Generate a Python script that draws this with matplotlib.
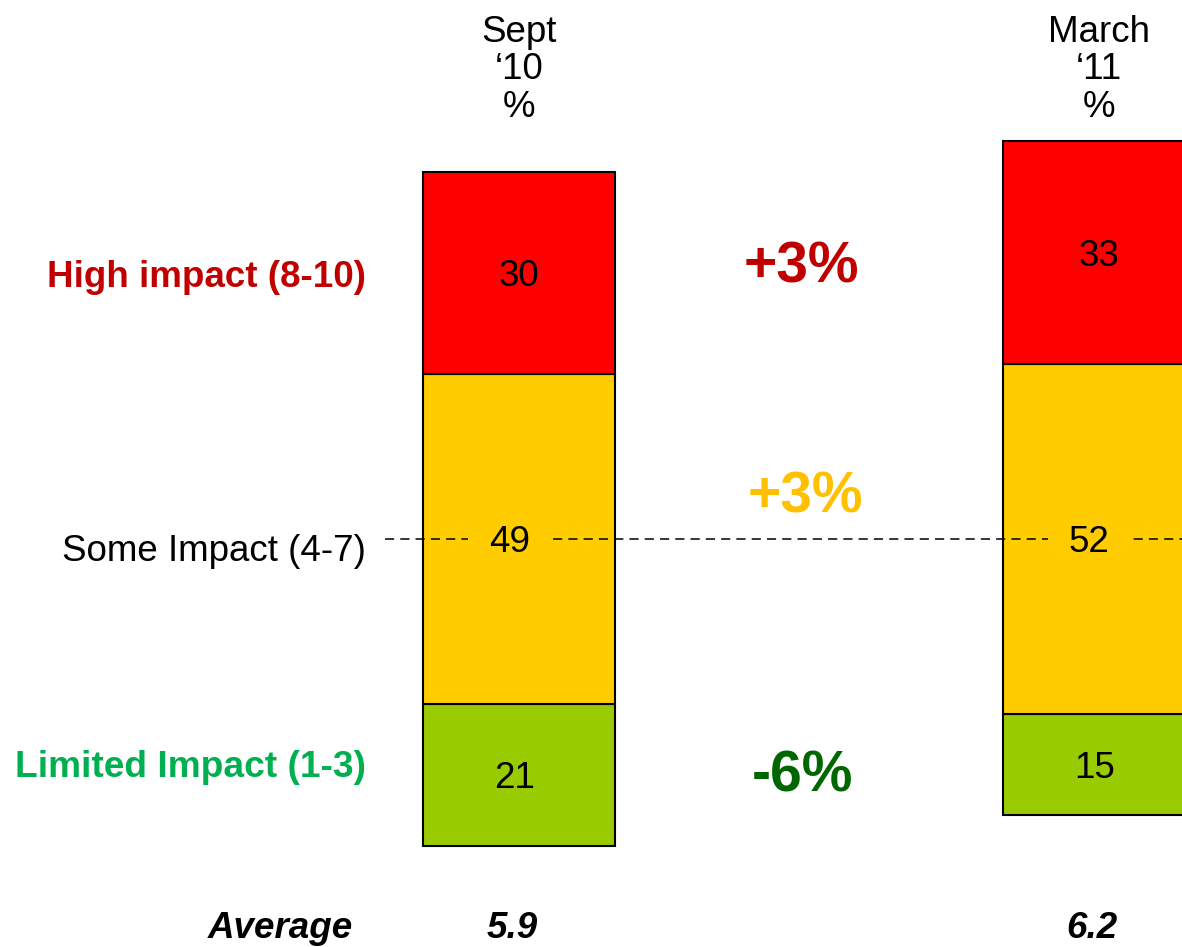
import matplotlib
matplotlib.use("Agg")
import matplotlib.pyplot as plt

# ---- data ----
periods = ["Sept\n\u201810\n%", "March\n\u201811\n%"]
limited = [21, 15]
some = [49, 52]
high = [30, 33]
averages = ["5.9", "6.2"]
changes = ["+3%", "+3%", "-6%"]
row_labels = ["High impact (8-10)", "Some Impact (4-7)", "Limited Impact (1-3)"]

c_red, c_yel, c_grn = "#FF0000", "#FFCC00", "#99CC00"

plt.rcParams['font.family'] = ['Liberation Sans', 'DejaVu Sans']

fig = plt.figure(figsize=(11.82, 9.47), dpi=100)
ax = fig.add_axes([0, 0, 1, 1])
ax.set_xlim(-519 / 580, (1182 - 519) / 580)
ax.set_ylim(-(947 - 539) / 6.74, 539 / 6.74)
ax.axis("off")

xs = [0, 1]
w = 192 / 580
fs = 26.5
for i, x in enumerate(xs):
    b0 = -(limited[i] + some[i] / 2)
    b1 = b0 + limited[i]
    b2 = b1 + some[i]
    ax.bar(x, limited[i], w, bottom=b0, color=c_grn, edgecolor="black", linewidth=1.5, zorder=2)
    ax.bar(x, some[i], w, bottom=b1, color=c_yel, edgecolor="black", linewidth=1.5, zorder=2)
    ax.bar(x, high[i], w, bottom=b2, color=c_red, edgecolor="black", linewidth=1.5, zorder=2)
    ax.text(x - 0.008, b0 + limited[i] / 2 - 2, str(limited[i]), ha="center", va="baseline", fontsize=fs, zorder=5)
    ax.text(x - 0.017, b1 + some[i] / 2 - 2, str(some[i]), ha="center", va="baseline", fontsize=fs, zorder=5,
            bbox=dict(boxstyle="square,pad=0.55", fc=c_yel, ec="none"))
    ax.text(x, b2 + high[i] / 2 - 2, str(high[i]), ha="center", va="baseline", fontsize=fs, zorder=5)
    ax.text(x, 69.6, periods[i], ha="center", va="center", fontsize=fs, linespacing=1.08)
    ax.text(x - 0.012, -59.2, averages[i], ha="center", va="baseline", fontsize=fs,
            fontweight="bold", fontstyle="italic")

# dashed reference line
ax.plot([(385 - 519) / 580, 1.2], [0, 0], color="black", lw=1.1, ls=(0, (6, 4)), zorder=3)

# row labels
lx = (366 - 519) / 580
ax.text(lx, 37.4, row_labels[0], ha="right", va="baseline", fontsize=fs, fontweight="bold", color="#C00000")
ax.text(lx, -3.3, row_labels[1], ha="right", va="baseline", fontsize=fs, color="black")
ax.text(lx, -35.3, row_labels[2], ha="right", va="baseline", fontsize=fs + 0.2, fontweight="bold", color="#00B050")
ax.text((280 - 519) / 580, -59.2, "Average", ha="center", va="baseline", fontsize=fs,
        fontweight="bold", fontstyle="italic")

# change annotations
cx = (801 - 519) / 580
ax.text(cx, 38.0, changes[0], ha="center", va="baseline", fontsize=41, fontweight="bold", color="#C00000")
ax.text(cx + 0.007, 3.9, changes[1], ha="center", va="baseline", fontsize=41, fontweight="bold", color="#FFC000")
ax.text(cx + 0.003, -37.5, changes[2], ha="center", va="baseline", fontsize=41, fontweight="bold", color="#006600")

fig.savefig("out.png", dpi=100)
